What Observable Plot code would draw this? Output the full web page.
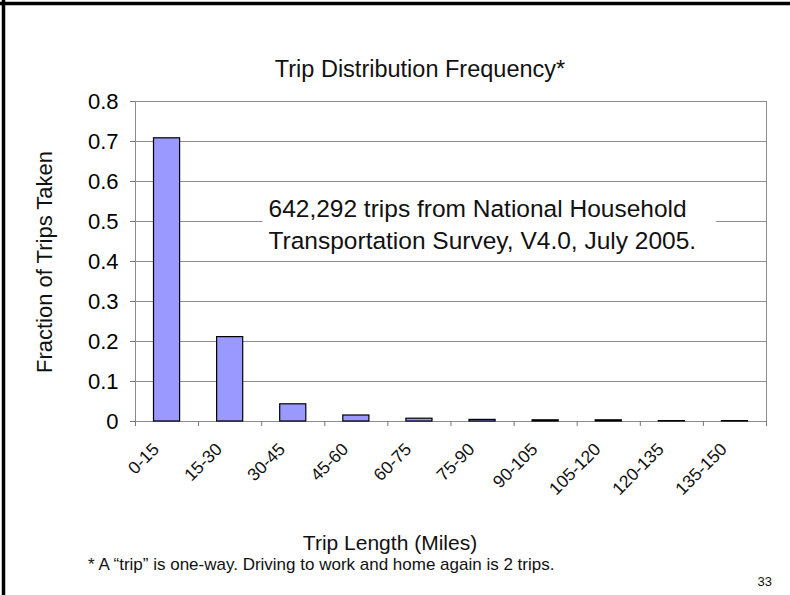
<!DOCTYPE html>
<html><head><meta charset="utf-8">
<script src="https://cdn.jsdelivr.net/npm/d3@7"></script>
<script src="https://cdn.jsdelivr.net/npm/@observablehq/plot@0.6"></script>
<style>
body{margin:0;background:#fff;}
#chart{position:relative;width:790px;height:595px;}
</style></head><body><div id="chart"></div>
<script>
const binStart = [0, 15, 30, 45, 60, 75, 90, 105, 120, 135];
const binEnd = [15, 30, 45, 60, 75, 90, 105, 120, 135, 150];
const binLabels = ["0-15", "15-30", "30-45", "45-60", "60-75", "75-90", "90-105", "105-120", "120-135", "135-150"];
const tripFraction = [0.708, 0.211, 0.043, 0.015, 0.007, 0.004, 0.003, 0.003, 0.001, 0.001];
const yTicks = [0, 0.1, 0.2, 0.3, 0.4, 0.5, 0.6, 0.7, 0.8];
const xTicks = [0, 15, 30, 45, 60, 75, 90, 105, 120, 135, 150];
const titleText = "Trip Distribution Frequency*";
const xLabelText = "Trip Length (Miles)";
const yLabelText = "Fraction of Trips Taken";
const annotationText = "642,292 trips from National Household\nTransportation Survey, V4.0, July 2005.";
const footnoteText = "* A \u201Ctrip\u201D is one-way. Driving to work and home again is 2 trips.";
const pageNumber = "33";

const bins = binStart.map((s, i) => ({start: s, end: binEnd[i], label: binLabels[i], value: tripFraction[i]}));
const font = "'Liberation Sans', Arial, sans-serif";

const plot = Plot.plot({
  width: 790, height: 595,
  marginLeft: 135, marginRight: 24, marginTop: 101, marginBottom: 174,
  style: {fontFamily: font, background: "white", color: "black"},
  x: {domain: [0, 150]},
  y: {domain: [0, 0.8]},
  marks: [
    Plot.gridY(yTicks, {stroke: "#8c8c8c", strokeOpacity: 1}),
    Plot.frame({stroke: "#8c8c8c"}),
    Plot.text([annotationText], {frameAnchor: "top-left", dx: 133, dy: 93, lineAnchor: "top", textAnchor: "start", fontSize: 24.5, lineHeight: 1.3, fill: "#111", className: "annot"}),
    Plot.rectY(bins, {x1: "start", x2: "end", y: "value", fill: "#9999ff", stroke: "black", strokeWidth: 1.2, insetLeft: 18.5, insetRight: 18.5}),
    Plot.axisY({ticks: yTicks, tickSize: 5, tickPadding: 12, fontSize: 22, tickFormat: d => String(+d.toFixed(1)), label: null, stroke: "#777"}),
    Plot.axisX({ticks: xTicks, tickSize: 5, tickFormat: () => "", label: null, stroke: "#777"}),
    Plot.text(bins, {x: d => (d.start + d.end) / 2, frameAnchor: "bottom", text: "label", rotate: -45, textAnchor: "end", lineAnchor: "middle", fontSize: 17.5, dx: -11, dy: 25, fill: "#111"})
  ]
});
document.getElementById("chart").appendChild(plot);

const svg = d3.select(plot);
// white box behind annotation
const annot = svg.select("g.annot text");
if (!annot.empty()) {
  const bb = annot.node().getBBox();
  const r = d3.select(annot.node().parentNode).insert("rect", "text")
    .attr("x", bb.x - 6).attr("y", bb.y - 2).attr("width", bb.width + 26).attr("height", bb.height + 4)
    .attr("fill", "white");
  if (annot.attr("transform")) r.attr("transform", annot.attr("transform"));
}
const addText = (txt, x, y, size, anchor, rot) => {
  const t = svg.append("text").text(txt).attr("font-size", size).attr("font-family", font)
    .attr("text-anchor", anchor).attr("fill", "#111");
  if (rot) t.attr("transform", `translate(${x},${y}) rotate(${rot})`);
  else t.attr("x", x).attr("y", y);
  return t;
};
addText(titleText, 420, 77, 23.5, "middle");
addText(xLabelText, 390, 549.5, 21, "middle");
addText(yLabelText, 52, 262, 22, "middle", -90);
addText(footnoteText, 88, 570, 17, "start");
addText(pageNumber, 772, 586, 13, "end");
// page border (left and top)
svg.append("line").attr("x1", 3.5).attr("x2", 3.5).attr("y1", 0).attr("y2", 595).attr("stroke", "black").attr("stroke-width", 3.5);
svg.append("line").attr("x1", 0).attr("x2", 790).attr("y1", 3.5).attr("y2", 3.5).attr("stroke", "black").attr("stroke-width", 3.5);
</script></body></html>
